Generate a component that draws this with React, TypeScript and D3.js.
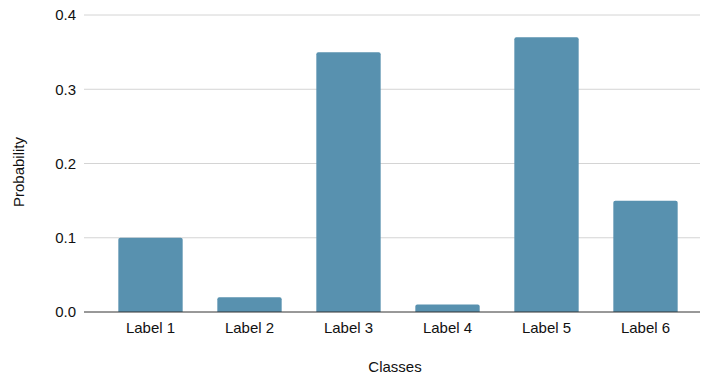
import React from "react";
import * as d3 from "d3";

const categories = ["Label 1", "Label 2", "Label 3", "Label 4", "Label 5", "Label 6"];
const probabilities = [0.1, 0.02, 0.35, 0.01, 0.37, 0.15];
const yTicks = [0, 0.1, 0.2, 0.3, 0.4];

const W = 702;
const H = 374;
const FONT = "'Liberation Sans', Arial, sans-serif";

function topRoundedRect(x: number, y: number, w: number, h: number, r: number) {
  const rr = Math.min(r, h, w / 2);
  return `M${x},${y + h}V${y + rr}Q${x},${y} ${x + rr},${y}H${x + w - rr}Q${x + w},${y} ${x + w},${y + rr}V${y + h}Z`;
}

export default function App() {
  const x = d3.scaleBand<string>().domain(categories).range([101, 695]).paddingInner(0.35).paddingOuter(0.175);
  const y = d3.scaleLinear().domain([0, 0.4]).range([312, 15]);
  const gridX0 = 84;
  const gridX1 = 700;

  return (
    <svg width={W} height={H} style={{ position: "absolute", left: 0, top: 0, display: "block" }} fontFamily={FONT}>
      <rect width={W} height={H} fill="#ffffff" />
      {yTicks.map((t) => (
        <g key={t}>
          {t !== 0 && (
            <line x1={gridX0} x2={gridX1} y1={y(t)} y2={y(t)} stroke="#d4d4d4" strokeWidth={1} />
          )}
          <text x={76} y={y(t)} dy="0.36em" textAnchor="end" fontSize={15} fill="#111">
            {t.toFixed(1)}
          </text>
        </g>
      ))}
      {categories.map((c, i) => (
        <path
          key={c}
          d={topRoundedRect(x(c)!, y(probabilities[i]), x.bandwidth(), y(0) - y(probabilities[i]), 2)}
          fill="#5891af"
        />
      ))}
      <line x1={gridX0} x2={gridX1} y1={y(0)} y2={y(0)} stroke="#333" strokeWidth={1} />
      {categories.map((c) => (
        <text key={c} x={x(c)! + x.bandwidth() / 2} y={333} textAnchor="middle" fontSize={15} fill="#111">
          {c}
        </text>
      ))}
      <text x={395} y={372} textAnchor="middle" fontSize={15} fill="#111">
        Classes
      </text>
      <text transform={`translate(24,172) rotate(-90)`} textAnchor="middle" fontSize={15} fill="#111">
        Probability
      </text>
    </svg>
  );
}
